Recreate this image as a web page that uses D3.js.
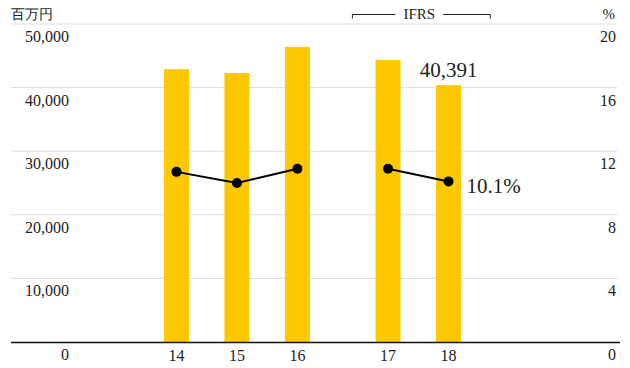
<!DOCTYPE html>
<html>
<head>
<meta charset="utf-8">
<script src="https://cdn.jsdelivr.net/npm/d3@7"></script>
<style>
  body { margin: 0; background: #fff; }
  svg { display: block; font-family: "Liberation Serif", "DejaVu Serif", serif; }
</style>
</head>
<body>
<svg id="chart"></svg>
<script>
var years = ["14", "15", "16", "17", "18"];
var standard = ["JGAAP", "JGAAP", "JGAAP", "IFRS", "IFRS"];
var profit = [42900, 42300, 46400, 44350, 40391];     // 百万円
var margin = [10.7, 10.0, 10.9, 10.9, 10.1];          // %
var leftTicks = [0, 10000, 20000, 30000, 40000, 50000];
var rightTicks = [0, 4, 8, 12, 16, 20];

var width = 630, height = 368,
    plotLeft = 11, plotRight = 620, plotTop = 24, plotBottom = 342,
    barWidth = 25;

var svg = d3.select("#chart")
    .attr("width", width)
    .attr("height", height);

// slot positions, extra half step between accounting standards
var slots = [];
var s = 0;
years.forEach(function(y, i) {
    if (i > 0 && standard[i] !== standard[i - 1]) s += 0.5;
    slots.push(s);
    s += 1;
});

var x = d3.scaleLinear().domain([0, 4.5]).range([176.5, 448.5]);
var unit = x(1) - x(0);
var yL = d3.scaleLinear().domain([0, 50000]).range([plotBottom, plotTop]);
var yR = d3.scaleLinear().domain([0, 20]).range([plotBottom, plotTop]);

// gridlines
svg.append("g")
    .selectAll("line")
    .data(leftTicks.slice(1))
    .enter()
    .append("line")
    .attr("x1", plotLeft)
    .attr("x2", 617)
    .attr("y1", (d) => yL(d))
    .attr("y2", (d) => yL(d))
    .attr("stroke", "#dcdcdc")
    .attr("stroke-width", 1);

// left tick labels
svg.append("g")
    .selectAll("text")
    .data(leftTicks)
    .enter()
    .append("text")
    .attr("x", 69)
    .attr("y", (d) => yL(d) + 18)
    .attr("text-anchor", "end")
    .attr("font-size", 16)
    .attr("fill", "#222")
    .text((d) => d3.format(",")(d));

// right tick labels
svg.append("g")
    .selectAll("text")
    .data(rightTicks)
    .enter()
    .append("text")
    .attr("x", 616)
    .attr("y", (d) => yR(d) + 18)
    .attr("text-anchor", "end")
    .attr("font-size", 16)
    .attr("fill", "#222")
    .text((d) => d);

// unit labels
svg.append("text")
    .attr("x", plotLeft)
    .attr("y", 19)
    .attr("font-size", 14)
    .attr("fill", "#222")
    .text("百万円");
svg.append("text")
    .attr("x", 615)
    .attr("y", 19)
    .attr("text-anchor", "end")
    .attr("font-size", 15)
    .attr("fill", "#222")
    .text("%");

// bars
svg.append("g")
    .selectAll("rect")
    .data(profit)
    .enter()
    .append("rect")
    .attr("x", (d, i) => x(slots[i]) - barWidth / 2)
    .attr("width", barWidth)
    .attr("y", (d) => yL(d))
    .attr("height", (d) => yL(0) - yL(d))
    .attr("fill", "#fcc800");

// baseline
svg.append("line")
    .attr("x1", plotLeft)
    .attr("x2", plotRight)
    .attr("y1", plotBottom + 0.5)
    .attr("y2", plotBottom + 0.5)
    .attr("stroke", "#111")
    .attr("stroke-width", 1.5);

// category labels
svg.append("g")
    .selectAll("text")
    .data(years)
    .enter()
    .append("text")
    .attr("x", (d, i) => x(slots[i]))
    .attr("y", 361)
    .attr("text-anchor", "middle")
    .attr("font-size", 16)
    .attr("fill", "#222")
    .text((d) => d);

// margin lines, one per accounting standard
var line = d3.line()
    .x((d) => x(slots[d]))
    .y((d) => yR(margin[d]));

var groups = d3.groups(d3.range(years.length), (i) => standard[i]);
svg.append("g")
    .selectAll("path")
    .data(groups)
    .enter()
    .append("path")
    .attr("d", (g) => line(g[1]))
    .attr("fill", "none")
    .attr("stroke", "#000")
    .attr("stroke-width", 2);

svg.append("g")
    .selectAll("circle")
    .data(margin)
    .enter()
    .append("circle")
    .attr("cx", (d, i) => x(slots[i]))
    .attr("cy", (d) => yR(d))
    .attr("r", 5)
    .attr("fill", "#000");

// annotations for latest year
var last = years.length - 1;
svg.append("text")
    .attr("x", x(slots[last]))
    .attr("y", yL(profit[last]) - 8)
    .attr("text-anchor", "middle")
    .attr("font-size", 21)
    .attr("fill", "#222")
    .text(d3.format(",")(profit[last]));
svg.append("text")
    .attr("x", x(slots[last]) + 18)
    .attr("y", yR(margin[last]) + 12)
    .attr("font-size", 21)
    .attr("fill", "#222")
    .text(margin[last].toFixed(1) + "%");

// IFRS bracket
var ifrsIdx = d3.range(years.length).filter((i) => standard[i] === "IFRS");
var bx1 = x(slots[ifrsIdx[0]]) - 0.59 * unit,
    bx2 = x(slots[ifrsIdx[ifrsIdx.length - 1]]) + 0.69 * unit,
    bmid = (bx1 + bx2) / 2 - 2,
    by = 14.5;
var bracket = svg.append("g")
    .attr("stroke", "#222")
    .attr("stroke-width", 1)
    .attr("fill", "none");
bracket.append("path")
    .attr("d", `M${bx1},${by + 4}V${by}H${bmid - 24}`);
bracket.append("path")
    .attr("d", `M${bmid + 24},${by}H${bx2}V${by + 4}`);
svg.append("text")
    .attr("x", bmid)
    .attr("y", 19)
    .attr("text-anchor", "middle")
    .attr("font-size", 15)
    .attr("fill", "#222")
    .text("IFRS");
</script>
</body>
</html>
